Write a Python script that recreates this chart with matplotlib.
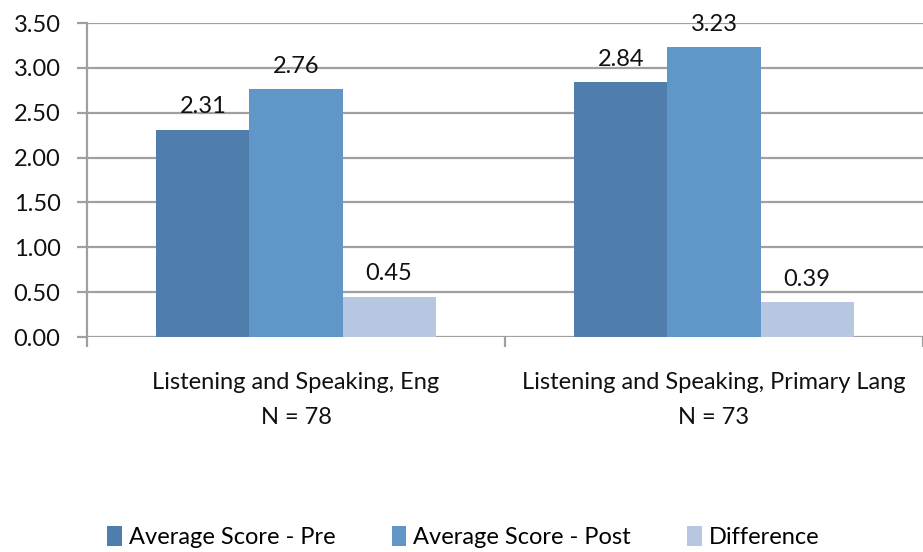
import matplotlib
matplotlib.use("Agg")
import matplotlib.pyplot as plt
import numpy as np

categories = ["Listening and Speaking, Eng\nN = 78",
              "Listening and Speaking, Primary Lang\nN = 73"]
series_names = ["Average Score - Pre", "Average Score - Post", "Difference"]
pre = [2.31, 2.84]
post = [2.76, 3.23]
diff = [0.45, 0.39]
colors = ["#4F7DAC", "#6096C8", "#B8C7E1"]
yticks = [0.0, 0.5, 1.0, 1.5, 2.0, 2.5, 3.0, 3.5]

plt.rcParams['font.family'] = ['Lato', 'DejaVu Sans']
fs = 17

fig = plt.figure(figsize=(9.23, 5.52), dpi=100)
ax = fig.add_axes([87/923, 1-337/552, (923-87)/923, (337-23)/552])

x = np.arange(len(categories))
w = 0.2225
for i, (vals, c, name) in enumerate(zip([pre, post, diff], colors, series_names)):
    bars = ax.bar(x + (i-1)*w, vals, w, color=c, label=name, zorder=3)
    for b, v in zip(bars, vals):
        ax.annotate(f"{v:.2f}", (b.get_x()+b.get_width()/2, v), xytext=(0, 9),
                    textcoords="offset points", ha="center", va="bottom",
                    fontsize=fs, color="#111111", zorder=4)

ax.set_xlim(-0.5, 1.5)
ax.set_ylim(0, 3.5)
ax.set_yticks(yticks)
ax.set_yticklabels([f"{t:.2f}" for t in yticks], fontsize=fs)
ax.yaxis.grid(True, color="#A0A0A0", linewidth=1.6, zorder=0)
ax.set_axisbelow(True)
for s in ["top", "right", "bottom"]:
    ax.spines[s].set_visible(False)
ax.spines["left"].set_color("#A0A0A0")
ax.spines["left"].set_linewidth(1.6)
ax.tick_params(axis="y", length=7, width=1.6, color="#A0A0A0", pad=12, labelcolor="#111111")

ax.set_xticks(x)
ax.set_xticklabels(categories, fontsize=fs, color="#111111", linespacing=1.85)
ax.tick_params(axis="x", length=0, pad=25)
# category boundary ticks
ax.set_xticks([-0.5, 0.5, 1.5], minor=True)
ax.tick_params(axis="x", which="minor", length=7, width=1.6, color="#A0A0A0")

handles, labels = ax.get_legend_handles_labels()
leg = fig.legend(handles, labels, loc="center", bbox_to_anchor=(0.502, 1-537/552),
                 ncol=3, frameon=False, fontsize=fs, handlelength=0.6, handleheight=0.9,
                 handletextpad=0.3, columnspacing=2.4)

fig.savefig("out.png", dpi=100)
